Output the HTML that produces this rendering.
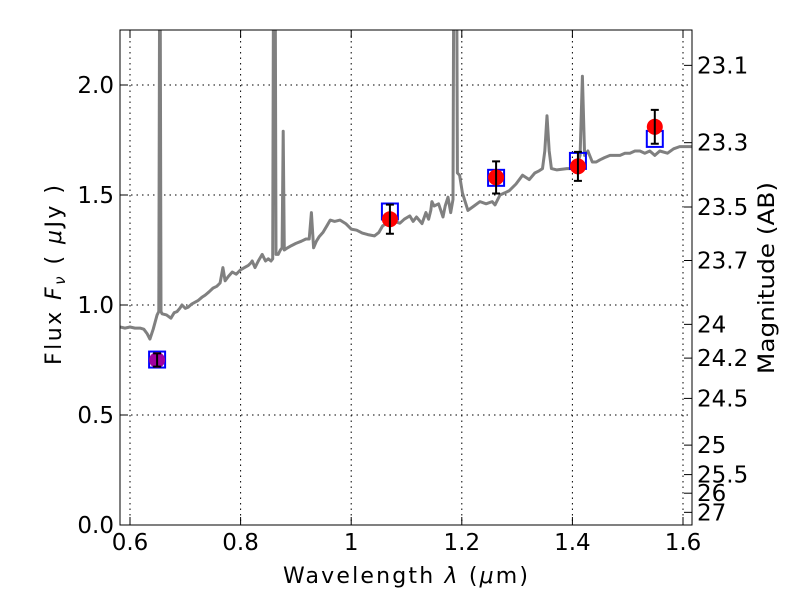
<!DOCTYPE html>
<html><head><meta charset="utf-8"><style>
body{margin:0;background:#fff;}
svg{display:block;font-family:"DejaVu Sans","Liberation Sans",sans-serif;}
</style></head><body>
<svg id="chart" width="800" height="600">
<rect width="800" height="600" fill="#fff"/>
<defs><clipPath id="clip"><rect x="120" y="30" width="572" height="495"/></clipPath></defs>
<g id="grid"></g>
<g id="spec" clip-path="url(#clip)"></g>
<g id="phot" clip-path="url(#clip)"></g>
<rect x="120" y="30" width="572" height="495" fill="none" stroke="#000" stroke-width="1"/>
<g id="axes"></g>
<text x="283" y="583" font-size="22" textLength="245" lengthAdjust="spacing">Wavelength  <tspan font-style="italic">λ</tspan> (<tspan font-style="italic">μ</tspan>m)</text>
<text transform="translate(61,365) rotate(-90)" font-size="22" textLength="180" lengthAdjust="spacing">Flux  <tspan font-style="italic">F<tspan font-size="15" dy="4">ν</tspan></tspan><tspan dy="-4">  ( </tspan><tspan font-style="italic">μ</tspan>Jy )</text>
<text transform="translate(774,374) rotate(-90)" font-size="22" textLength="192" lengthAdjust="spacingAndGlyphs">Magnitude (AB)</text>
</svg>
<script>
const specWave=[
0.582,0.591,0.600,0.609,0.618,0.625,0.631,0.636,0.642,0.649,
0.652,0.654,0.656,0.658,0.666,0.674,0.680,0.685,0.690,0.694,
0.700,0.705,0.712,0.723,0.730,0.736,0.743,0.750,0.757,0.763,
0.768,0.772,0.778,0.785,0.792,0.800,0.807,0.814,0.818,0.821,
0.826,0.832,0.839,0.845,0.850,0.855,0.858,0.860,0.862,0.864,
0.868,0.872,0.875,0.877,0.879,0.885,0.892,0.900,0.910,0.918,
0.924,0.928,0.932,0.937,0.942,0.949,0.956,0.962,0.970,0.980,
0.990,1.000,1.010,1.020,1.030,1.042,1.050,1.057,1.064,1.070,
1.078,1.088,1.096,1.106,1.112,1.118,1.128,1.135,1.140,1.144,
1.146,1.150,1.158,1.166,1.170,1.175,1.180,1.184,1.186,1.190,
1.192,1.196,1.201,1.211,1.222,1.233,1.244,1.255,1.260,1.269,
1.278,1.286,1.298,1.310,1.322,1.332,1.340,1.346,1.350,1.354,
1.358,1.362,1.372,1.390,1.402,1.410,1.414,1.418,1.422,1.428,
1.436,1.443,1.450,1.458,1.468,1.477,1.486,1.495,1.504,1.513,
1.522,1.531,1.540,1.549,1.558,1.572,1.583,1.594,1.605,1.616];
const specFlux=[
0.90,0.895,0.90,0.895,0.895,0.89,0.87,0.845,0.89,0.955,
0.97,3.0,0.97,0.96,0.955,0.94,0.965,0.97,0.985,1.0,
0.985,0.99,1.005,1.02,1.035,1.045,1.06,1.077,1.085,1.10,
1.17,1.11,1.13,1.15,1.14,1.16,1.17,1.18,1.19,1.20,
1.17,1.20,1.23,1.20,1.21,1.20,1.21,3.0,3.0,1.23,
1.23,1.25,1.26,1.79,1.25,1.26,1.27,1.28,1.29,1.30,
1.30,1.42,1.26,1.29,1.31,1.33,1.36,1.386,1.38,1.386,
1.37,1.345,1.34,1.327,1.32,1.314,1.33,1.36,1.37,1.377,
1.38,1.372,1.39,1.405,1.38,1.40,1.37,1.42,1.39,1.43,
1.47,1.45,1.46,1.40,1.45,1.49,1.42,1.48,3.0,3.0,
1.60,1.59,1.51,1.43,1.45,1.47,1.46,1.47,1.455,1.50,
1.51,1.52,1.55,1.59,1.57,1.60,1.61,1.62,1.70,1.86,
1.70,1.62,1.614,1.62,1.62,1.65,1.68,2.04,1.68,1.70,
1.65,1.65,1.66,1.67,1.68,1.68,1.68,1.69,1.69,1.70,
1.70,1.69,1.70,1.68,1.70,1.69,1.71,1.72,1.72,1.72];
const photWave=[0.649,1.070,1.262,1.410,1.549];
const photFlux=[0.75,1.39,1.58,1.63,1.81];
const photErr=[0.03,0.066,0.073,0.066,0.077];
const modelFlux=[0.752,1.425,1.578,1.655,1.755];
const xTicks=[0.6,0.8,1.0,1.2,1.4,1.6];
const xTickLabels=["0.6","0.8","1","1.2","1.4","1.6"];
const yTicks=[0,0.5,1.0,1.5,2.0];
const yTickLabels=["0.0","0.5","1.0","1.5","2.0"];
const magTicks=[23.1,23.3,23.5,23.7,24,24.2,24.5,25,25.5,26,27];
const magTickLabels=["23.1","23.3","23.5","23.7","24","24.2","24.5","25","25.5","26","27"];

const NS="http://www.w3.org/2000/svg";
const X=v=>130+(v-0.6)*553;
const Y=v=>525-v*220;
function mk(tag,attrs,parent){const e=document.createElementNS(NS,tag);for(const k in attrs)e.setAttribute(k,attrs[k]);parent.appendChild(e);return e;}
const grid=document.getElementById('grid'),axes=document.getElementById('axes');
xTicks.forEach((t,i)=>{
  const g=mk('line',{x1:X(t),x2:X(t),y1:30,y2:525,stroke:'#000','stroke-dasharray':'1.5,4','stroke-width':1},grid);
  
  
  const a=mk('line',{x1:X(t),x2:X(t),y1:525,y2:517,stroke:'#000'},axes);
  
  
  const b=mk('line',{x1:X(t),x2:X(t),y1:30,y2:38,stroke:'#000'},axes);
  
  
  const l=mk('text',{x:X(t),y:550,'font-size':23,'text-anchor':'middle'},axes);
  l.textContent=xTickLabels[i];
  
  
});
yTicks.forEach((t,i)=>{
  const g=mk('line',{x1:120,x2:692,y1:Y(t),y2:Y(t),stroke:'#000','stroke-dasharray':'1.5,4','stroke-width':1},grid);
  
  
  const a=mk('line',{x1:120,x2:128,y1:Y(t),y2:Y(t),stroke:'#000'},axes);
  
  
  const l=mk('text',{x:114,y:Y(t)+8,'font-size':23,'text-anchor':'end'},axes);
  l.textContent=yTickLabels[i];
  
  
});
magTicks.forEach((m,i)=>{
  const y=Y(Math.pow(10,(23.9-m)/2.5));
  const a=mk('line',{x1:684,x2:692,y1:y,y2:y,stroke:'#000'},axes);
  
  
  const l=mk('text',{x:697,y:y+8,'font-size':23},axes);
  l.textContent=magTickLabels[i];
  
  
});
const spec=document.getElementById('spec');
const p=mk('path',{d:specWave.map((w,i)=>(i?'L':'M')+X(w).toFixed(1)+','+Y(specFlux[i]).toFixed(1)).join(''),fill:'none',stroke:'#808080','stroke-width':3,'stroke-linejoin':'round'},spec);


const phot=document.getElementById('phot');
photWave.forEach((w,i)=>{
  const s=mk('rect',{x:X(w)-8,y:Y(modelFlux[i])-8,width:16,height:16,fill:'none',stroke:'#0000ff','stroke-width':2},phot);
  
  
  const c=mk('circle',{cx:X(w),cy:Y(photFlux[i]),r:8,fill:i===0?'#a000a0':'#ff0000'},phot);
  
  
  const y1=Y(photFlux[i]+photErr[i]),y2=Y(photFlux[i]-photErr[i]),x=X(w);
  const e=mk('path',{d:`M${x},${y1}L${x},${y2}M${x-4},${y1}L${x+4},${y1}M${x-4},${y2}L${x+4},${y2}`,stroke:'#000','stroke-width':2,fill:'none'},phot);
  
  
});
</script>
</body></html>
